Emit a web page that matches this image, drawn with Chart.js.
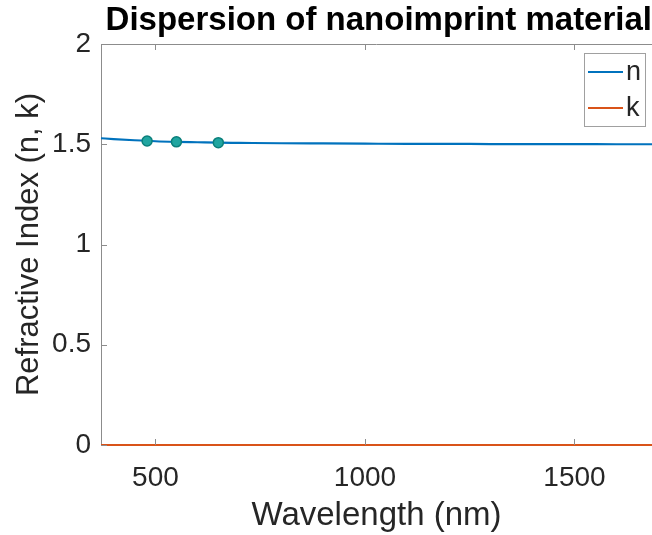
<!DOCTYPE html>
<html>
<head>
<meta charset="utf-8">
<script src="https://cdn.jsdelivr.net/npm/chart.js@4.4.1/dist/chart.umd.min.js"></script>
<style>
  html, body { margin: 0; padding: 0; background: #fff; overflow: hidden; }
  #wrap { width: 652px; height: 535px; }
</style>
</head>
<body>
<div id="wrap"><canvas id="dispChart" width="652" height="535"></canvas></div>
<script>
// data
var wavelengths = [370, 400, 450, 500, 550, 600, 650, 700, 800, 900, 1000, 1100, 1200, 1300, 1400, 1500, 1600, 1700];
var nValues = [1.530, 1.526, 1.520, 1.515, 1.512, 1.510, 1.508, 1.507, 1.505, 1.504, 1.503, 1.502, 1.502, 1.501, 1.501, 1.501, 1.500, 1.500];
var kValues = [0, 0, 0, 0, 0, 0, 0, 0, 0, 0, 0, 0, 0, 0, 0, 0, 0, 0];
var markerWavelengths = [480, 550, 650];
var markerN = [1.516, 1.512, 1.508];
var xTicks = [500, 1000, 1500];
var yTicks = [0, 0.5, 1, 1.5, 2];

var textColor = '#262626';
var axisColor = '#8c8c8c';
var font = 'Liberation Sans, Arial, Helvetica, sans-serif';

function toXY(xs, ys) {
    return xs.map(function(x, i) { return {x: x, y: ys[i]}; });
}

// box, inward ticks and in-plot legend, MATLAB style
var matlabBox = {
    id: 'matlabBox',
    afterDatasetsDraw: function(chart) {
        var ctx = chart.ctx;
        var area = chart.chartArea;
        var xs = chart.scales.x, ys = chart.scales.y;
        var tl = 6;
        ctx.save();
        ctx.strokeStyle = axisColor;
        ctx.lineWidth = 1;
        ctx.beginPath();
        ctx.moveTo(area.left, area.top + 0.5);
        ctx.lineTo(area.right, area.top + 0.5);
        xTicks.forEach(function(v) {
            var px = Math.round(xs.getPixelForValue(v)) + 0.5;
            ctx.moveTo(px, area.bottom);
            ctx.lineTo(px, area.bottom - tl);
            ctx.moveTo(px, area.top);
            ctx.lineTo(px, area.top + tl);
        });
        yTicks.forEach(function(v) {
            var py = Math.round(ys.getPixelForValue(v)) + 0.5;
            ctx.moveTo(area.left, py);
            ctx.lineTo(area.left + tl, py);
        });
        ctx.stroke();

        // legend
        var bx = 584, by = 53, bw = 61, bh = 73;
        ctx.fillStyle = '#fff';
        ctx.fillRect(bx, by, bw, bh);
        ctx.strokeStyle = '#a0a0a0';
        ctx.strokeRect(bx + 0.5, by + 0.5, bw, bh);
        var rows = [72, 108];
        [0, 1].forEach(function(i) {
            var ds = chart.data.datasets[i];
            ctx.strokeStyle = ds.borderColor;
            ctx.lineWidth = 2;
            ctx.beginPath();
            ctx.moveTo(588, rows[i]);
            ctx.lineTo(623, rows[i]);
            ctx.stroke();
            ctx.fillStyle = textColor;
            ctx.font = '27px ' + font;
            ctx.textBaseline = 'middle';
            ctx.textAlign = 'left';
            ctx.fillText(ds.label, 626, rows[i] + 1);
        });
        ctx.restore();
    }
};

var ctx = document.getElementById('dispChart').getContext('2d');
var chart = new Chart(ctx, {
    type: 'line',
    data: {
        datasets: [{
            label: 'n',
            data: toXY(wavelengths, nValues),
            borderColor: '#0072BD',
            borderWidth: 2.2,
            pointRadius: 0,
            cubicInterpolationMode: 'monotone',
            clip: 4,
            order: 2
        }, {
            label: 'k',
            data: toXY(wavelengths, kValues),
            borderColor: '#D95319',
            borderWidth: 2.2,
            pointRadius: 0,
            clip: 4,
            order: 2
        }, {
            label: 'points',
            type: 'scatter',
            data: toXY(markerWavelengths, markerN),
            backgroundColor: '#20a5a0',
            borderColor: '#0b7f7b',
            borderWidth: 1.5,
            pointRadius: 5,
            showLine: false,
            order: 1
        }]
    },
    options: {
        responsive: false,
        animation: false,
        layout: { autoPadding: false, padding: 0 },
        plugins: {
            legend: { display: false },
            tooltip: { enabled: false },
            title: {
                display: true,
                align: 'end',
                text: 'Dispersion of nanoimprint material',
                color: '#000',
                font: { family: font, size: 33, weight: 'bold' },
                padding: { top: 1.5, bottom: 2.9 }
            }
        },
        scales: {
            x: {
                type: 'linear',
                min: 370,
                max: 1685,
                afterBuildTicks: function(scale) {
                    scale.ticks = xTicks.map(function(v) { return {value: v}; });
                },
                afterFit: function(scale) { scale.height = 90; },
                grid: { display: false, drawTicks: false },
                border: { display: true, color: axisColor, width: 1 },
                ticks: {
                    color: textColor,
                    padding: 16,
                    maxRotation: 0,
                    font: { family: font, size: 28 },
                    callback: function(v) { return String(v); }
                },
                title: {
                    display: true,
                    text: 'Wavelength (nm)',
                    color: textColor,
                    font: { family: font, size: 33 },
                    padding: { top: 4, bottom: -1 }
                }
            },
            y: {
                type: 'linear',
                min: 0,
                max: 2,
                afterBuildTicks: function(scale) {
                    scale.ticks = yTicks.map(function(v) { return {value: v}; });
                },
                afterFit: function(scale) { scale.width = 101; },
                grid: { display: false, drawTicks: false },
                border: { display: true, color: axisColor, width: 1 },
                ticks: {
                    color: textColor,
                    padding: 10,
                    font: { family: font, size: 28 },
                    callback: function(v) { return String(v); }
                },
                title: {
                    display: true,
                    text: 'Refractive Index (n, k)',
                    color: textColor,
                    font: { family: font, size: 31 },
                    padding: { top: 11, bottom: 4 }
                }
            }
        }
    },
    plugins: [matlabBox]
});
</script>
</body>
</html>
